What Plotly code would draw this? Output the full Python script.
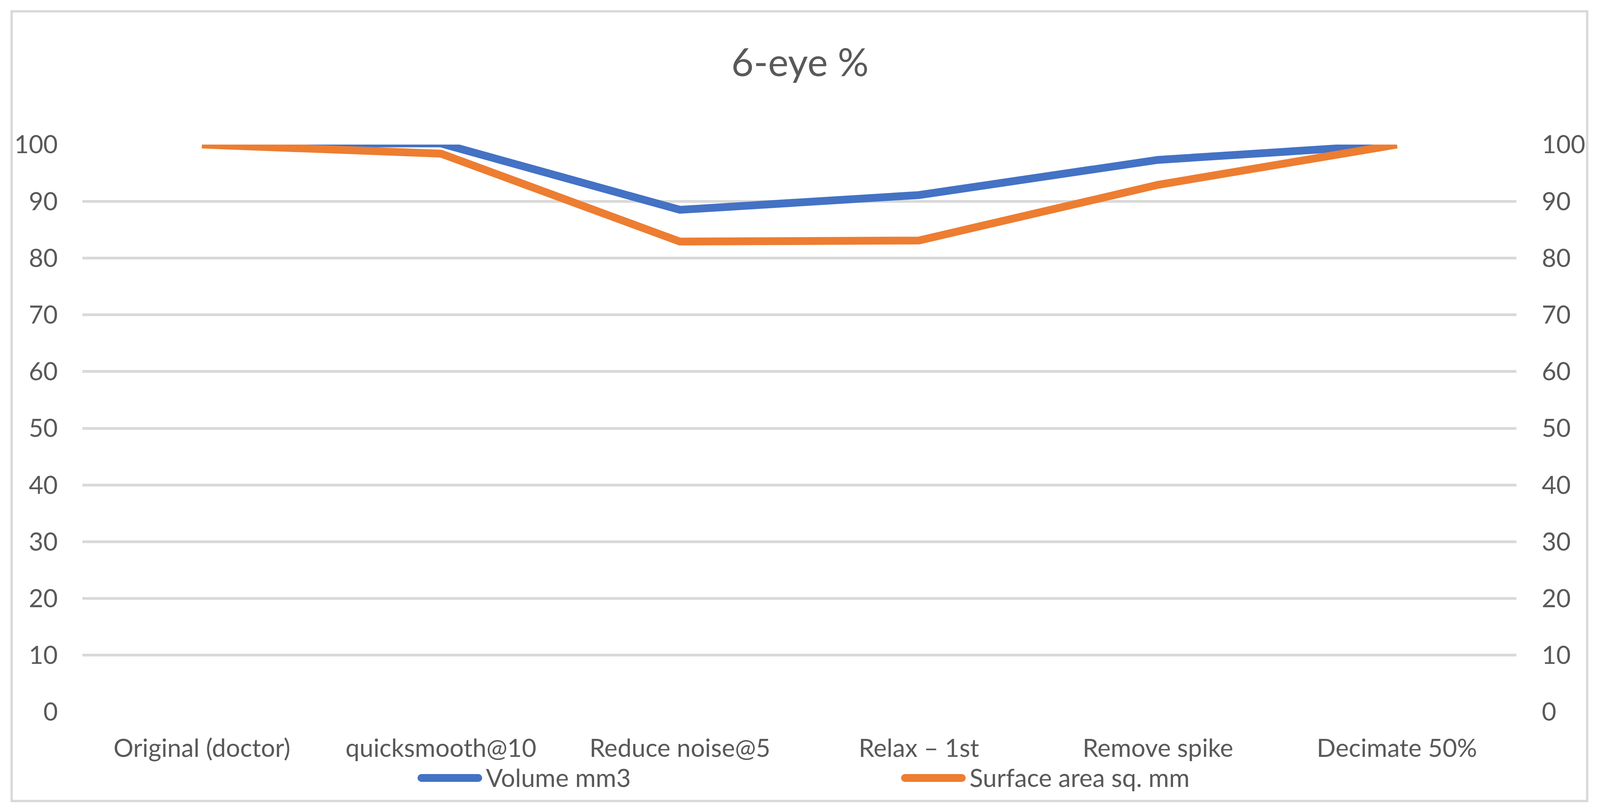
import plotly.graph_objects as go

categories = ["Original (doctor)", "quicksmooth@10", "Reduce noise@5", "Relax – 1st", "Remove spike", "Decimate 50%"]
volume_mm3 = [100.2, 100.2, 88.5, 91.1, 97.3, 100.0]
surface_area = [100.0, 98.4, 82.9, 83.1, 92.9, 100.0]
y_ticks = [0, 10, 20, 30, 40, 50, 60, 70, 80, 90, 100]
series_names = ["Volume mm3", "Surface area sq. mm"]
series_colors = ["#4472C4", "#ED7D31"]

# the browser viewport is 4096 px wide; lay the 4430-px reference out on it
W, H = 4096, 2073
SX = W / 4430.0
L = 228 * SX
R = W - 4199 * SX
T, B = 370, 251
TXT = "#595959"
GRID = "#D9D9D9"
FONT = "Lato"
FS = 64

pw = W - L - R
ph = H - T - B


def px_x(x):
    return (x * SX - L) / pw


def px_y(y):
    return (H - B - y) / ph


fig = go.Figure()
fig.add_trace(go.Scatter(x=categories, y=volume_mm3, mode="lines", name=series_names[0],
                         line=dict(color=series_colors[0], width=20), yaxis="y"))
fig.add_trace(go.Scatter(x=categories, y=surface_area, mode="lines", name=series_names[1],
                         line=dict(color=series_colors[1], width=20), yaxis="y2"))

shapes = [dict(type="rect", xref="paper", yref="paper",
               x0=px_x(32), x1=px_x(4395), y0=px_y(2050), y1=px_y(29),
               line=dict(color=GRID, width=6), fillcolor="rgba(0,0,0,0)", layer="below")]
annotations = []

# custom legend (rounded swatches, as in the reference)
legend_swatch = [(1156, 1335), (2495, 2674)]
legend_text_x = [1345, 2685]
LEG_Y = 1991
rad = 10 / SX
for (sx0, sx1), tx, name, col in zip(legend_swatch, legend_text_x, series_names, series_colors):
    shapes.append(dict(type="line", xref="paper", yref="paper",
                       x0=px_x(sx0 + rad), x1=px_x(sx1 - rad), y0=px_y(LEG_Y), y1=px_y(LEG_Y),
                       line=dict(color=col, width=20)))
    for cx in (sx0 + rad, sx1 - rad):
        shapes.append(dict(type="circle", xref="paper", yref="paper",
                           x0=px_x(cx - rad), x1=px_x(cx + rad),
                           y0=px_y(LEG_Y + 10), y1=px_y(LEG_Y - 10),
                           line=dict(width=0), fillcolor=col))
    annotations.append(dict(text=name, xref="paper", yref="paper", x=px_x(tx) - 2 / pw,
                            y=px_y(LEG_Y - 2), xanchor="left", yanchor="middle", showarrow=False,
                            font=dict(family=FONT, size=FS, color=TXT)))

fig.update_layout(
    width=W, height=H,
    margin=dict(l=L, r=R, t=T, b=B, autoexpand=False),
    paper_bgcolor="white", plot_bgcolor="white",
    font=dict(family=FONT, size=FS, color=TXT),
    title=dict(text="6-eye %", x=0.5, xanchor="center", y=1 - 160 / H, yanchor="middle",
               font=dict(family=FONT, size=99, color=TXT)),
    xaxis=dict(type="category", categoryorder="array", categoryarray=categories,
               range=[-0.5, 5.5], showgrid=False, showline=False, zeroline=False,
               ticks="", ticklabelstandoff=50, tickfont=dict(size=FS, color=TXT)),
    yaxis=dict(range=[0, 100], tickvals=y_ticks, showgrid=True, gridcolor=GRID, gridwidth=7,
               zeroline=False, showline=False, ticks="", ticklabelstandoff=62,
               tickfont=dict(size=FS, color=TXT)),
    yaxis2=dict(range=[0, 100], tickvals=y_ticks, overlaying="y", side="right", showgrid=False,
                zeroline=False, showline=False, ticks="", ticklabelstandoff=64,
                tickfont=dict(size=FS, color=TXT)),
    showlegend=False,
    shapes=shapes,
    annotations=annotations,
)

post = "document.body.style.margin='0';document.body.style.overflow='hidden';"
fig.write_html("out.html", post_script=post, config={"displayModeBar": False})
